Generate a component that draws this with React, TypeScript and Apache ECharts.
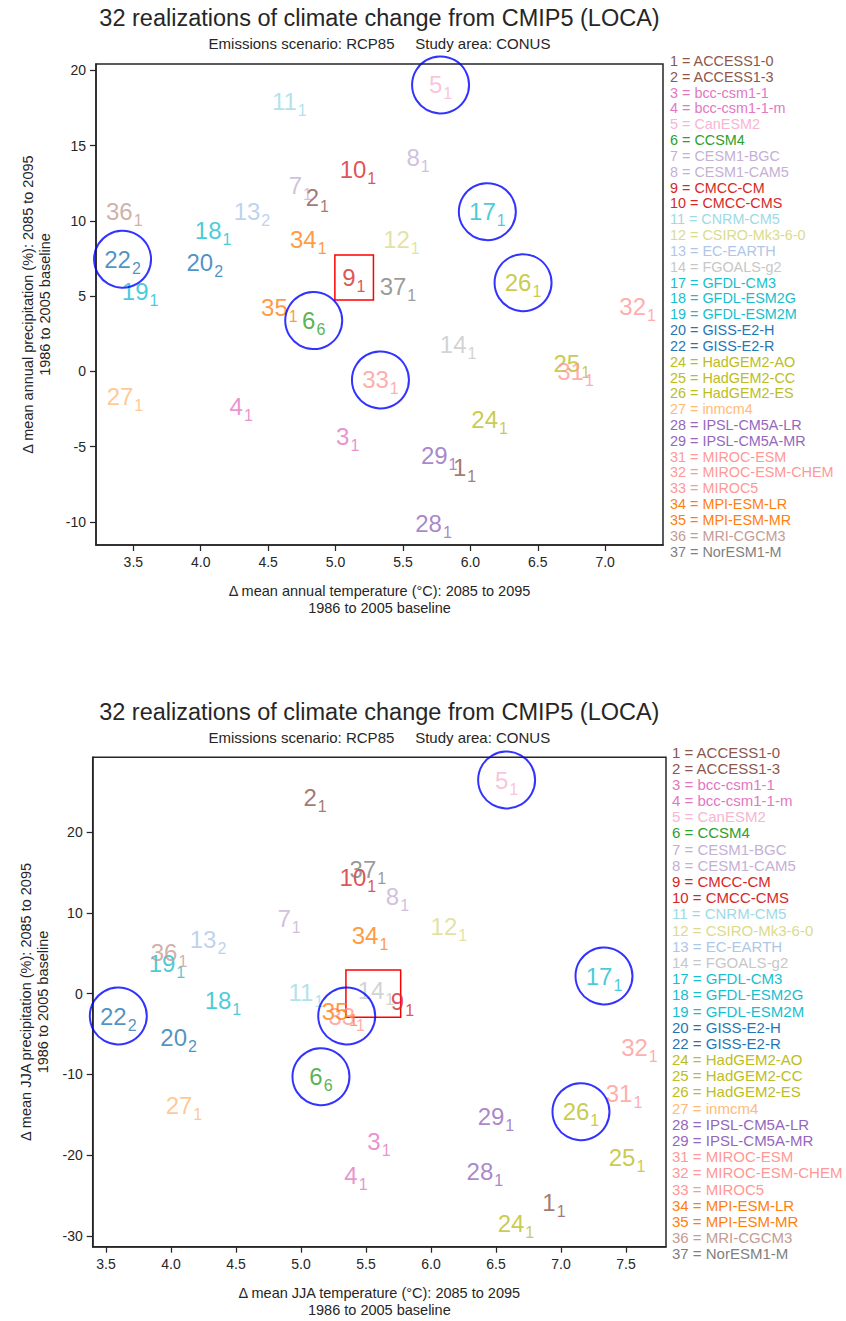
import React, { useEffect, useRef } from "react";
import * as echarts from "echarts";

// ---------- data ----------
const modelIds = [1, 2, 3, 4, 5, 6, 7, 8, 9, 10, 11, 12, 13, 14, 17, 18, 19, 20, 22, 24, 25, 26, 27, 28, 29, 31, 32, 33, 34, 35, 36, 37];
const modelNames = [
  "ACCESS1-0", "ACCESS1-3", "bcc-csm1-1", "bcc-csm1-1-m", "CanESM2", "CCSM4", "CESM1-BGC", "CESM1-CAM5",
  "CMCC-CM", "CMCC-CMS", "CNRM-CM5", "CSIRO-Mk3-6-0", "EC-EARTH", "FGOALS-g2", "GFDL-CM3", "GFDL-ESM2G",
  "GFDL-ESM2M", "GISS-E2-H", "GISS-E2-R", "HadGEM2-AO", "HadGEM2-CC", "HadGEM2-ES", "inmcm4", "IPSL-CM5A-LR",
  "IPSL-CM5A-MR", "MIROC-ESM", "MIROC-ESM-CHEM", "MIROC5", "MPI-ESM-LR", "MPI-ESM-MR", "MRI-CGCM3", "NorESM1-M",
];
const modelColors = [
  "#8c564b", "#8c564b", "#e377c2", "#e377c2", "#f7b6d2", "#2ca02c", "#c5b0d5", "#c5b0d5",
  "#d62728", "#d62728", "#9edae5", "#dbdb8d", "#aec7e8", "#c7c7c7", "#17becf", "#17becf",
  "#17becf", "#1f77b4", "#1f77b4", "#bcbd22", "#bcbd22", "#bcbd22", "#ffbb78", "#9467bd",
  "#9467bd", "#ff9896", "#ff9896", "#ff9896", "#ff7f0e", "#ff7f0e", "#c49c94", "#7f7f7f",
];
const realizations = [1, 1, 1, 1, 1, 6, 1, 1, 1, 1, 1, 1, 2, 1, 1, 1, 1, 2, 2, 1, 1, 1, 1, 1, 1, 1, 1, 1, 1, 1, 1, 1];
const selectedIds = [5, 6, 17, 22, 26, 33];

// annual change (top chart)
const annualTemp = [
  5.957, 4.865, 5.09, 4.3, 5.779, 4.838, 4.739, 5.612, 5.136, 5.166, 4.657, 5.489, 4.38, 5.909, 6.126, 4.092,
  3.55, 4.03, 3.42, 6.143, 6.752, 6.391, 3.438, 5.727, 5.769, 6.78, 7.241, 5.333, 4.798, 4.583, 3.433, 5.463,
];
const annualPrecip = [
  -6.41, 11.59, -4.29, -2.36, 19.04, 3.38, 12.33, 14.22, 6.25, 13.39, 17.93, 8.74, 10.66, 1.76, 10.62, 9.34,
  5.32, 7.24, 7.46, -3.22, 0.56, 5.9, -1.67, -10.07, -5.6, -0.01, 4.31, -0.56, 8.74, 4.22, 10.62, 5.63,
];
// JJA change (bottom chart)
const jjaTemp = [
  6.946, 5.108, 5.6, 5.423, 6.582, 5.154, 4.908, 5.742, 5.781, 5.438, 5.038, 6.138, 4.285, 5.577, 7.331, 4.4,
  3.969, 4.059, 3.595, 6.654, 7.508, 7.154, 4.1, 6.415, 6.5, 7.485, 7.604, 5.352, 5.531, 5.3, 3.985, 5.515,
];
const jjaPrecip = [
  -25.8, 24.27, -18.24, -22.45, 26.44, -10.28, 9.36, 11.99, -0.98, 14.43, 0.2, 8.37, 6.76, 0.45, 2.18, -0.79,
  3.79, -5.43, -2.77, -28.39, -20.22, -14.62, -13.79, -22.04, -15.24, -12.3, -6.67, -2.77, 7.25, -2.15, 5.15, 15.42,
];

// highlighted box (x range, y range)
const annualBoxX = [4.995, 5.281];
const annualBoxY = [4.75, 7.74];
const jjaBoxX = [5.346, 5.767];
const jjaBoxY = [-2.93, 2.92];

// ticks
const annualXTicks = [3.5, 4.0, 4.5, 5.0, 5.5, 6.0, 6.5, 7.0];
const annualYTicks = [-10, -5, 0, 5, 10, 15, 20];
const jjaXTicks = [3.5, 4.0, 4.5, 5.0, 5.5, 6.0, 6.5, 7.0, 7.5];
const jjaYTicks = [-30, -20, -10, 0, 10, 20];

// texts
const titleText = "32 realizations of climate change from CMIP5 (LOCA)";
const subtitleText = "Emissions scenario: RCP85\u00a0\u00a0\u00a0\u00a0\u00a0Study area: CONUS";
const annualXName = "\u0394 mean annual temperature (\u00b0C): 2085 to 2095\n1986 to 2005 baseline";
const annualYName = "\u0394 mean annual precipitation (%): 2085 to 2095\n1986 to 2005 baseline";
const jjaXName = "\u0394 mean JJA temperature (\u00b0C): 2085 to 2095\n1986 to 2005 baseline";
const jjaYName = "\u0394 mean JJA precipitation (%): 2085 to 2095\n1986 to 2005 baseline";

// ---------- styling ----------
const FONT = '"Liberation Sans", Arial, sans-serif';
const AX = "#262626";
const TXT = "#262626";

function labelSeries(xs: number[], ys: number[], idx: number, box: { x: number[]; y: number[] }) {
  return {
    type: "scatter",
    xAxisIndex: idx,
    yAxisIndex: idx,
    symbolSize: 1,
    silent: true,
    z: 2,
    itemStyle: { color: "rgba(0,0,0,0)" },
    label: {
      show: true,
      position: "inside",
      formatter: (p: any) => `{a|${modelIds[p.dataIndex]}}{b|${realizations[p.dataIndex]}}`,
    },
    data: xs.map((x, i) => ({
      value: [x, ys[i]],
      label: {
        rich: {
          a: { fontSize: 24, lineHeight: 24, fontFamily: FONT, color: modelColors[i], verticalAlign: "top" },
          b: { fontSize: 16, lineHeight: 16, fontFamily: FONT, color: modelColors[i], verticalAlign: "top", padding: [13, 0, 0, 1] },
        },
      },
    })),
    markArea: {
      silent: true,
      itemStyle: { color: "rgba(0,0,0,0)", borderColor: "#ff0000", borderWidth: 1.5 },
      data: [[{ coord: [box.x[0], box.y[0]] }, { coord: [box.x[1], box.y[1]] }]],
    },
  };
}

function circleSeries(xs: number[], ys: number[], idx: number) {
  return {
    type: "scatter",
    xAxisIndex: idx,
    yAxisIndex: idx,
    symbol: "circle",
    symbolSize: 57,
    silent: true,
    z: 3,
    itemStyle: { color: "rgba(0,0,0,0)", borderColor: "#0000ff", borderWidth: 2 },
    data: selectedIds.map((id) => {
      const i = modelIds.indexOf(id);
      return [xs[i], ys[i]];
    }),
  };
}

function xAxisCfg(idx: number, min: number, max: number, ticks: number[], name: string, gap: number) {
  return {
    gridIndex: idx,
    type: "value",
    min,
    max,
    splitLine: { show: false },
    axisLine: { show: true, onZero: false, lineStyle: { color: AX, width: 1.5 } },
    axisTick: { show: true, length: 6, customValues: ticks, lineStyle: { color: AX, width: 1.25 } },
    axisLabel: { customValues: ticks, formatter: (v: number) => v.toFixed(1), fontSize: 14, fontFamily: FONT, color: TXT, margin: 10 },
    name,
    nameLocation: "middle",
    nameGap: gap,
    nameTextStyle: { fontSize: 14.5, lineHeight: 17, fontFamily: FONT, color: TXT },
  };
}

function yAxisCfg(idx: number, min: number, max: number, ticks: number[], name: string, gap: number) {
  return {
    gridIndex: idx,
    type: "value",
    min,
    max,
    splitLine: { show: false },
    axisLine: { show: true, onZero: false, lineStyle: { color: AX, width: 1.5 } },
    axisTick: { show: true, length: 6, customValues: ticks, lineStyle: { color: AX, width: 1.25 } },
    axisLabel: { customValues: ticks, formatter: (v: number) => String(v), fontSize: 14, fontFamily: FONT, color: TXT, margin: 10 },
    name,
    nameLocation: "middle",
    nameGap: gap,
    nameTextStyle: { fontSize: 14.5, lineHeight: 17, fontFamily: FONT, color: TXT },
  };
}

function legendTexts(x: number, y0: number, step: number, size: number) {
  return modelIds.map((id, i) => ({
    type: "text",
    x,
    y: y0 + i * step,
    silent: true,
    style: {
      text: `${id} = ${modelNames[i]}`,
      fill: modelColors[i],
      fontSize: size,
      fontFamily: FONT,
      align: "left",
      verticalAlign: "middle",
    },
  }));
}

function titleTexts(cx: number, y1: number, y2: number) {
  return [
    {
      type: "text",
      x: cx,
      y: y1,
      silent: true,
      style: { text: titleText, fill: TXT, fontSize: 23.5, fontFamily: FONT, align: "center", verticalAlign: "middle" },
    },
    {
      type: "text",
      x: cx,
      y: y2,
      silent: true,
      style: { text: subtitleText, fill: TXT, fontSize: 15, fontFamily: FONT, align: "center", verticalAlign: "middle" },
    },
  ];
}

export default function App() {
  const ref = useRef<HTMLDivElement>(null);
  useEffect(() => {
    if (!ref.current) return;
    const chart = echarts.init(ref.current, null, { renderer: "svg" });
    const option = {
      animation: false,
      backgroundColor: "#ffffff",
      grid: [
        { left: 96, top: 64, width: 567, height: 481, show: true, borderColor: AX, borderWidth: 1.5, containLabel: false },
        { left: 92.7, top: 757.3, width: 573.3, height: 489.4, show: true, borderColor: AX, borderWidth: 1.5, containLabel: false },
      ],
      xAxis: [
        xAxisCfg(0, 3.223, 7.429, annualXTicks, annualXName, 37),
        xAxisCfg(1, 3.398, 7.808, jjaXTicks, jjaXName, 38),
      ],
      yAxis: [
        yAxisCfg(0, -11.53, 20.43, annualYTicks, annualYName, 43),
        yAxisCfg(1, -31.32, 29.25, jjaYTicks, jjaYName, 40),
      ],
      series: [
        labelSeries(annualTemp, annualPrecip, 0, { x: annualBoxX, y: annualBoxY }),
        circleSeries(annualTemp, annualPrecip, 0),
        labelSeries(jjaTemp, jjaPrecip, 1, { x: jjaBoxX, y: jjaBoxY }),
        circleSeries(jjaTemp, jjaPrecip, 1),
      ],
      graphic: [
        ...titleTexts(379.5, 18, 43),
        ...titleTexts(379.3, 712, 737),
        ...legendTexts(670, 60.9, 15.83, 14.4),
        ...legendTexts(672, 752, 16.19, 15),
      ],
    };
    chart.setOption(option as any);
    return () => chart.dispose();
  }, []);
  return <div ref={ref} style={{ position: "absolute", left: 0, top: 0, width: 846, height: 1321 }} />;
}
